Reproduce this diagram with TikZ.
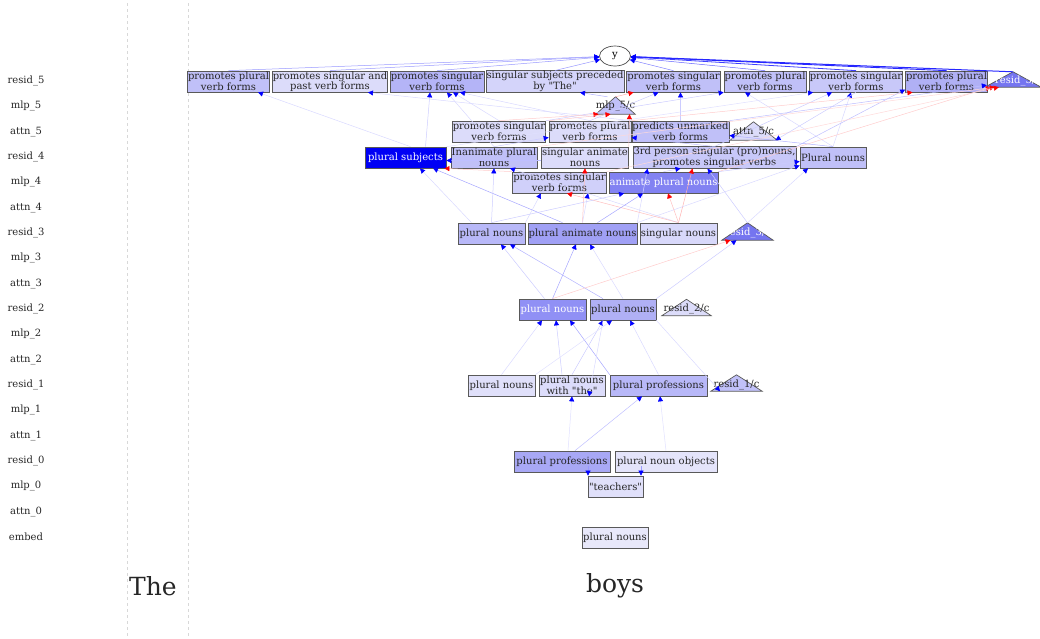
\documentclass[tikz,border=0pt]{standalone}
\usepackage{fontspec}
\setmainfont{DejaVu Serif}[Ligatures=TeXOff]
\usetikzlibrary{arrows.meta,calc,shapes.geometric}
\newcommand{\sq}{\symbol{34}}
\definecolor{c1}{HTML}{C0C0F8}
\definecolor{c2}{HTML}{DCDCFA}
\definecolor{c3}{HTML}{B4B4F7}
\definecolor{c4}{HTML}{D4D4FA}
\definecolor{c5}{HTML}{C8C8F9}
\definecolor{c6}{HTML}{B0B0F5}
\definecolor{c7}{HTML}{7575F0}
\definecolor{c8}{HTML}{0000F5}
\definecolor{c9}{HTML}{D0D0FA}
\definecolor{c10}{HTML}{8282F2}
\definecolor{c11}{HTML}{B8B8F8}
\definecolor{c12}{HTML}{A0A0F5}
\definecolor{c13}{HTML}{D8D8FA}
\definecolor{c14}{HTML}{9090F5}
\definecolor{c15}{HTML}{E0E0FA}
\definecolor{c16}{HTML}{A8A8F5}
\definecolor{c17}{HTML}{E4E4FA}
\definecolor{c18}{HTML}{E8E8FA}
\definecolor{sepgrey}{HTML}{D8D8D8}
\tikzset{
  nd/.style={draw=black!65, line width=0.7pt, rectangle, inner sep=0.5pt,
    minimum height=21pt, align=center, text=black!85,
    font=\fontsize{10}{10.5}\selectfont},
  tribox/.style={rectangle, inner sep=0pt, draw=none},
  trifill/.style={draw=black!65, line width=0.7pt},
  tritext/.style={inner sep=0pt, font=\fontsize{10}{10.5}\selectfont, text=black!85},
  lay/.style={font=\fontsize{10}{12}\selectfont, text=black!85},
  tok/.style={font=\fontsize{25}{30}\selectfont, text=black!85},
  eb/.style={line width=0.5pt, draw=blue!#1, -{Triangle[length=5pt,width=5pt,color=blue]}},
  er/.style={line width=0.5pt, draw=red!#1, -{Triangle[length=5pt,width=5pt,color=red]}},
  sepline/.style={draw=sepgrey, dashed, line width=0.6pt},
}
\begin{document}
\begin{tikzpicture}[x=1pt,y=-1pt]
\useasboundingbox (0,0) rectangle (1040,638);
% separators
\draw[sepline] (127,3) -- (127,636);
\draw[sepline] (188,3) -- (188,636);
% layer labels
\foreach \t [count=\i] in {resid\_5,mlp\_5,attn\_5,resid\_4,mlp\_4,attn\_4,resid\_3,mlp\_3,attn\_3,resid\_2,mlp\_2,attn\_2,resid\_1,mlp\_1,attn\_1,resid\_0,mlp\_0,attn\_0,embed}
  \node[lay] (lab\i) at (26,{81+(\i-1)*25.33}) {\t};
% tokens
\node[tok] (tokThe) at (153,586) {The};
\node[tok] (tokBoys) at (615,586) {boys};
% output
\node[draw=black!70, line width=0.7pt, ellipse, minimum width=31pt, minimum height=20pt, inner sep=0pt, fill=white, font=\fontsize{10}{10.5}\selectfont] (y) at (615,56) {y};
% resid_5
\node[nd, fill=c1, minimum width=81pt] (A1) at (228.5,81.5) {promotes plural\\verb forms};
\node[nd, fill=c2, minimum width=112pt] (A2) at (330,81.5) {promotes singular and\\past verb forms};
\node[nd, fill=c3, minimum width=94pt] (A3) at (437,81.5) {promotes singular\\verb forms};
\node[nd, fill=c4, minimum width=136pt] (A4) at (555,81.5) {singular subjects preceded\\by \sq The\sq};
\node[nd, fill=c1, minimum width=91pt] (A5) at (673.5,81.5) {promotes singular\\verb forms};
\node[nd, fill=c1, minimum width=82pt] (A6) at (765,81.5) {promotes plural\\verb forms};
\node[nd, fill=c5, minimum width=92pt] (A7) at (856,81.5) {promotes singular\\verb forms};
\node[tribox, minimum width=56pt, minimum height=15pt] (r5c) at (1013,79.5) {};
\draw[trifill, fill=c7] (r5c.south west) -- (r5c.north) -- (r5c.south east) -- cycle;
\node[tritext, text=white] (r5ct) at (1018,81) {resid\_5/c};
\node[nd, fill=c6, minimum width=81pt] (A8) at (946.5,81.5) {promotes plural\\verb forms};
% mlp_5
\node[tribox, minimum width=39pt, minimum height=17pt] (m5c) at (615.5,105.5) {};
\draw[trifill, fill=c1] (m5c.south west) -- (m5c.north) -- (m5c.south east) -- cycle;
\node[tritext] (m5ct) at (615.5,106) {mlp\_5/c};
% attn_5
\node[nd, fill=c2, minimum width=92pt] (B1) at (499,131.5) {promotes singular\\verb forms};
\node[nd, fill=c2, minimum width=82pt] (B2) at (590,131.5) {promotes plural\\verb forms};
\node[nd, fill=c1, minimum width=93pt] (B3) at (680.5,131.5) {predicts unmarked\\verb forms};
\node[tribox, minimum width=47pt, minimum height=18pt] (a5c) at (753.5,131) {};
\draw[trifill, fill=c2] (a5c.south west) -- (a5c.north) -- (a5c.south east) -- cycle;
\node[tritext] (a5ct) at (753.5,132) {attn\_5/c};
% resid_4
\node[nd, fill=c8, text=white, minimum width=81pt] (C1) at (405.5,157.5) {plural subjects};
\node[nd, fill=c1, minimum width=86pt] (C2) at (494,157.5) {Inanimate plural\\nouns};
\node[nd, fill=c2, minimum width=86pt] (C3) at (585,157.5) {singular animate\\nouns};
\node[nd, fill=c5, minimum width=163pt] (C4) at (714.5,157.5) {3rd person singular (pro)nouns,\\promotes singular verbs};
\node[nd, fill=c1, minimum width=66pt] (C5) at (833,157.5) {Plural nouns};
% mlp_4
\node[nd, fill=c9, minimum width=91pt] (D1) at (559.5,182.5) {promotes singular\\verb forms};
\node[nd, fill=c10, text=white, minimum width=107pt] (D2) at (663.5,182.5) {animate plural nouns};
% resid_3
\node[nd, fill=c11, minimum width=67pt] (E1) at (491.5,233.5) {plural nouns};
\node[nd, fill=c12, minimum width=107pt] (E2) at (582.5,233.5) {plural animate nouns};
\node[nd, fill=c13, minimum width=77pt] (E3) at (678.5,233.5) {singular nouns};
\node[tribox, minimum width=51pt, minimum height=17pt] (r3c) at (747.5,231.5) {};
\draw[trifill, fill=c7] (r3c.south west) -- (r3c.north) -- (r3c.south east) -- cycle;
\node[tritext, text=white] (r3ct) at (748,233) {resid\_3/c};
% resid_2
\node[nd, fill=c14, text=white, minimum width=67pt] (F1) at (552.5,309.5) {plural nouns};
\node[nd, fill=c6, minimum width=66pt] (F2) at (623,309.5) {plural nouns};
\node[tribox, minimum width=49pt, minimum height=16pt] (r2c) at (686.5,307.5) {};
\draw[trifill, fill=c2] (r2c.south west) -- (r2c.north) -- (r2c.south east) -- cycle;
\node[tritext] (r2ct) at (686.5,309) {resid\_2/c};
% resid_1
\node[nd, fill=c15, minimum width=67pt] (G1) at (501.5,385.5) {plural nouns};
\node[nd, fill=c2, minimum width=66pt] (G2) at (572,385.5) {plural nouns\\with \sq the\sq};
\node[nd, fill=c11, minimum width=97pt] (G3) at (658.5,385.5) {plural professions};
\node[tribox, minimum width=51pt, minimum height=16pt] (r1c) at (736.5,383) {};
\draw[trifill, fill=c1] (r1c.south west) -- (r1c.north) -- (r1c.south east) -- cycle;
\node[tritext] (r1ct) at (736.5,385) {resid\_1/c};
% resid_0
\node[nd, fill=c16, minimum width=96pt] (H1) at (562,461.5) {plural professions};
\node[nd, fill=c17, minimum width=102pt] (H2) at (666,461.5) {plural noun objects};
% mlp_0
\node[nd, fill=c15, minimum width=55pt] (tch) at (615.5,486.5) {\sq teachers\sq};
% embed
\node[nd, fill=c18, minimum width=66pt] (emb) at (615,537.5) {plural nouns};

% ---------- edges ----------
% into y
\draw[eb=40] (A1.north) -- (y);
\draw[eb=40] (A2.north) -- (y);
\draw[eb=40] (A3.north) -- (y);
\draw[eb=40] (A4.north) -- (y);
\draw[eb=50] (A5.north) -- (y);
\draw[eb=60] (A6.north) -- (y);
\draw[eb=75, line width=0.8pt] (A7.north) -- (y);
\draw[eb=85, line width=0.9pt] (A8.north) -- (y);
\draw[eb=85, line width=1pt] (r5c.north) -- (y);
% into resid_5
\draw[eb=15] ([xshift=5pt]C1.north) -- ([xshift=29.5pt]A1.south);
\draw[eb=20] ([xshift=20pt]C1.north) -- ([xshift=-7pt]A3.south);
\draw[eb=15] (B3.north west) -- ([xshift=38pt]A2.south);
\draw[eb=15] (C2.north) -- ([xshift=10pt]A3.south);
\draw[eb=15] (B1.north) -- ([xshift=16pt]A3.south);
\draw[eb=15] (B2.north) -- ([xshift=23pt]A3.south);
\draw[eb=30] ([xshift=-8pt]m5c.north) -- ([xshift=25pt]A4.south);
\draw[er=30] (m5c.north) -- ([xshift=-40pt]A5.south);
\draw[eb=20] (B2.north) -- ([xshift=-15pt]A5.south);
\draw[eb=20] (B3.north) -- ([xshift=7pt]A5.south);
\draw[eb=15] (C5.north) -- ([xshift=-20pt]A6.south);
\draw[eb=20] (B1.north east) -- (A6.south west);
\draw[eb=12] (C1.north east) -- ([xshift=-43pt]A7.south);
\draw[eb=20] (C4.north) -- ([xshift=-24pt]A7.south);
\draw[eb=15] (C5.north) -- ([xshift=-5pt]A7.south);
\draw[er=20] (B2.north east) -- ([xshift=-34pt]A8.south);
\draw[eb=25] (C4.north east) -- ([yshift=-8pt]A8.west);
\draw[er=20] (D2.north east) -- ([xshift=6pt]r5c.south west);
\draw[eb=25] (B3.north east) -- ([xshift=2pt,yshift=2pt]r5c.south west);
\draw[er=15] (C2.north east) -- ([xshift=10pt]r5c.south west);
\draw[er=15] (D1.north east) -- ([xshift=14pt]r5c.south west);
% into mlp_5
\draw[er=20] (B1.north) -- ([xshift=-17pt]m5c.south);
\draw[er=20] (B2.north west) -- ([xshift=-5pt]m5c.south);
\draw[er=20] (C3.north east) -- ([xshift=14pt]m5c.south);
% into attn_5
\draw[eb=20] (C2.north) -- ([yshift=-6pt]B2.west);
\draw[eb=25] (C4.north) -- ([yshift=-6pt]B3.west);
\draw[eb=30] (C5.north) -- ([yshift=-4pt]B3.east);
\draw[eb=20] (A7.south) -- ([xshift=22pt]a5c.south);
% into resid_4
\draw[eb=15] ([xshift=-20pt]E1.north) -- ([xshift=14.5pt]C1.south);
\draw[eb=35] ([xshift=-20pt]E2.north) -- ([xshift=27.5pt]C1.south);
\draw[er=20] (D1.north west) -- ([xshift=-2pt]C1.south east);
\draw[eb=25] ([yshift=-3pt]C3.west) -- ([yshift=-3pt]C1.east);
\draw[eb=20] (E1.north) -- (C2.south);
\draw[eb=15] (E3.north) -- ([xshift=16pt]C2.south);
\draw[er=25] (E2.north) -- (C3.south);
\draw[eb=15] (E2.north east) -- ([xshift=-67pt]C4.south);
\draw[eb=20] (D2.north) -- ([xshift=-34pt]C4.south);
\draw[er=30] (E3.north) -- ([xshift=-22pt]C4.south);
\draw[eb=20] (r3c.north) -- ([xshift=-7pt]C4.south);
\draw[eb=20] (D2.north east) -- ([yshift=-4pt]C5.west);
\draw[eb=15] (E2.north east) -- ([yshift=-8pt]C5.west);
\draw[eb=15] (r3c.north) -- ([xshift=-25pt]C5.south);
% into mlp_4
\draw[eb=15] (E1.north east) -- ([xshift=-18.5pt]D1.south);
\draw[er=25] (E3.north) -- ([xshift=7.5pt]D1.south);
\draw[eb=15] (E2.north) -- ([xshift=28.5pt]D1.south);
\draw[eb=20] (E1.north) -- ([xshift=-39.5pt]D2.south);
\draw[eb=35] ([xshift=15pt]E2.north) -- ([xshift=-20.5pt]D2.south);
\draw[er=25] (E3.north) -- ([xshift=4.5pt]D2.south);
% into resid_3
\draw[eb=20] ([xshift=-8pt]F1.north) -- ([xshift=9.5pt]E1.south);
\draw[eb=30] ([xshift=-20pt]F2.north) -- ([xshift=18.5pt]E1.south);
\draw[eb=35] (F1.north) -- ([xshift=-6.5pt]E2.south);
\draw[eb=15] (F2.north) -- ([xshift=7.5pt]E2.south);
\draw[er=20] (F1.north) -- ([xshift=-17pt]r3c.south);
\draw[eb=20] (F2.north east) -- ([xshift=-11pt]r3c.south);
% into resid_2
\draw[eb=15] (G1.north) -- ([xshift=-10.5pt]F1.south);
\draw[eb=20] ([xshift=-10pt]G2.north) -- ([xshift=3.5pt]F1.south);
\draw[eb=35] (G3.north west) -- ([xshift=17.5pt]F1.south);
\draw[eb=20] (G2.north) -- ([xshift=-20pt]F2.south);
\draw[eb=12] (G1.north east) -- ([xshift=-11pt]F2.south);
\draw[eb=15] (G3.north) -- ([xshift=7pt]F2.south);
% into resid_1
\draw[eb=12] ([xshift=6pt]H1.north) -- (G2.south);
\draw[eb=25] ([xshift=13pt]H1.north) -- ([xshift=-16.5pt]G3.south);
\draw[eb=12] (H2.north) -- ([xshift=1.5pt]G3.south);
\draw[eb=15] ([xshift=-20pt]F2.south) -- ([xshift=17pt]G2.south);
\draw[eb=15] (F2.south east) -- ([xshift=-16.5pt]r1c.south);
% resid_0 to mlp_0
\draw[eb=40] ([xshift=26pt,yshift=6pt]H1.south) -- ([xshift=-27.5pt]tch.north);
\draw[eb=40] ([xshift=-25pt,yshift=6pt]H2.south) -- ([xshift=25.5pt]tch.north);
\end{tikzpicture}
\end{document}
